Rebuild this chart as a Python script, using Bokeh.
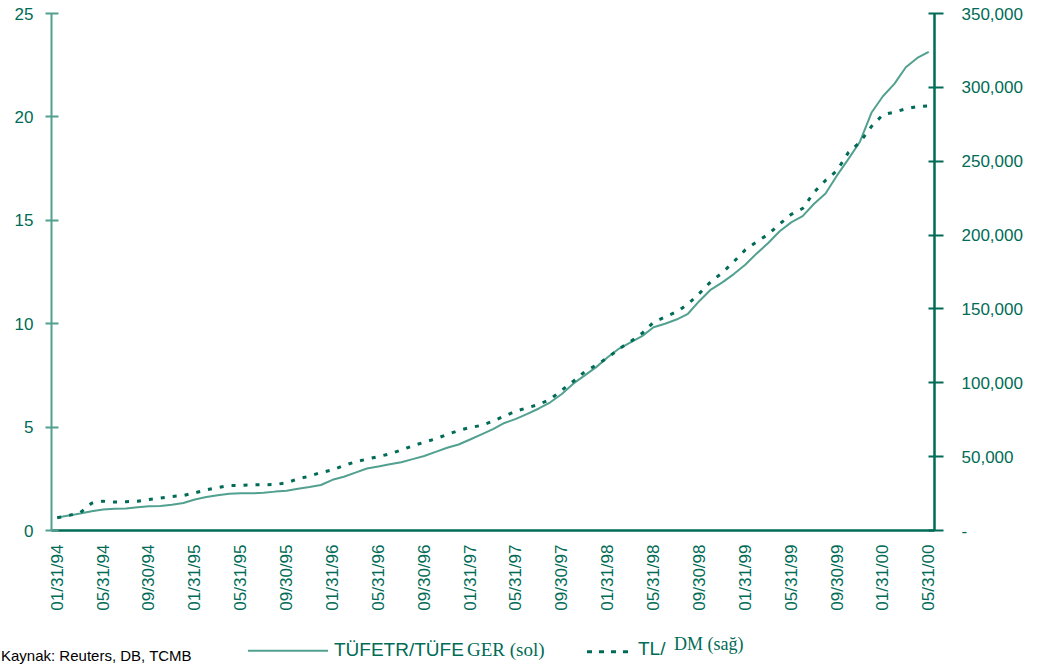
import math
import pandas as pd
from bokeh.plotting import figure
from bokeh.models import Range1d, LinearAxis, FixedTicker, NumeralTickFormatter, Div
from bokeh.layouts import column
from bokeh.embed import file_html
from bokeh.resources import INLINE

# ---------------- data ----------------
months = pd.date_range("1994-01-31", periods=77, freq="ME")
month_idx = list(range(len(months)))

tufe_ratio = [0.63, 0.72, 0.82, 0.93, 1.02, 1.05, 1.06, 1.12, 1.17, 1.19,
              1.24, 1.33, 1.50, 1.62, 1.70, 1.78, 1.80, 1.80, 1.82, 1.88,
              1.92, 2.02, 2.10, 2.20, 2.45, 2.60, 2.80, 3.00, 3.10, 3.20,
              3.30, 3.45, 3.60, 3.80, 4.00, 4.16, 4.40, 4.65, 4.90, 5.20,
              5.40, 5.64, 5.90, 6.20, 6.60, 7.10, 7.50, 7.90, 8.38, 8.80,
              9.10, 9.40, 9.83, 10.00, 10.20, 10.48, 11.10, 11.65, 12.00, 12.40,
              12.85, 13.40, 13.90, 14.47, 14.90, 15.20, 15.80, 16.30, 17.17, 17.97,
              18.80, 20.20, 21.00, 21.60, 22.40, 22.85, 23.15]

tl_dm = [8600, 10200, 12000, 18500, 19800, 19300, 19500, 19800, 21000, 22000,
         23000, 23700, 25500, 27500, 29000, 30500, 30500, 30900, 31000, 31100,
         32300, 35000, 36800, 39300, 41000, 44000, 46500, 48300, 50000, 51900,
         54500, 57300, 59800, 62100, 65000, 67700, 69700, 71200, 74000, 77500,
         80800, 83100, 85300, 88900, 95000, 101000, 107500, 112000, 117000, 123000,
         128000, 133500, 141000, 144600, 148000, 153300, 160500, 168500, 174500, 182000,
         190000, 195500, 200500, 207500, 214000, 218000, 229000, 237000, 243700, 256000,
         262900, 273500, 281500, 283200, 285500, 287000, 287500]

xtick_pos = list(range(0, 77, 4))
xtick_labels = ["01/31/94", "05/31/94", "09/30/94", "01/31/95", "05/31/95",
                "09/30/95", "01/31/96", "05/31/96", "09/30/96", "01/31/97",
                "05/31/97", "09/30/97", "01/31/98", "05/31/98", "09/30/98",
                "01/31/99", "05/31/99", "09/30/99", "01/31/00", "05/31/00"]

left_ticks = [0, 5, 10, 15, 20, 25]
right_ticks = [0, 50000, 100000, 150000, 200000, 250000, 300000, 350000]

legend_solid = "TÜFETR/TÜFE"
legend_solid_tail = "GER (sol)"
legend_dash = "TL/"
legend_dash_tail = "DM (sağ)"
source_text = "Kaynak: Reuters, DB, TCMB"

# ---------------- styles ----------------
DARK = "#006b56"
LIGHT = "#52a08f"
SANS = "Liberation Sans"
SERIF = "Liberation Serif"

W = 1045
H1 = 625
H2 = 44
FRAME_L, FRAME_R, FRAME_T, FRAME_B = 51, 934, 13, 530

p = figure(width=W, height=H1, output_backend="svg", toolbar_location=None,
           title=None,
           x_range=Range1d(-0.5, 76.5), y_range=Range1d(0, 25),
           min_border_left=FRAME_L, min_border_right=W - FRAME_R,
           min_border_top=FRAME_T, min_border_bottom=H1 - FRAME_B)
p.outline_line_color = None
p.xgrid.visible = False
p.ygrid.visible = False
p.background_fill_color = "white"
p.border_fill_color = "white"

p.extra_y_ranges = {"right": Range1d(0, 350000)}

# lines
p.line(month_idx, tufe_ratio, line_color=LIGHT, line_width=2)
p.line(month_idx, tl_dm, y_range_name="right", line_color=DARK,
       line_width=3, line_dash="4 8")

# x axis
xa = p.xaxis[0]
xa.ticker = FixedTicker(ticks=xtick_pos)
xa.major_label_overrides = {t: l for t, l in zip(xtick_pos, xtick_labels)}
xa.major_label_orientation = math.pi / 2
xa.major_tick_out = 0
xa.major_tick_in = 0
xa.minor_tick_out = 0
xa.minor_tick_in = 0
xa.axis_line_color = DARK
xa.axis_line_width = 2.5
xa.major_label_text_color = DARK
xa.major_label_text_font = SANS
xa.major_label_text_font_size = "17px"
xa.major_label_standoff = 14

# left axis
ya = p.yaxis[0]
ya.ticker = FixedTicker(ticks=left_ticks)
ya.axis_line_color = LIGHT
ya.axis_line_width = 2
ya.major_tick_line_color = LIGHT
ya.major_tick_line_width = 2
ya.major_tick_out = 6
ya.major_tick_in = 7
ya.minor_tick_out = 0
ya.minor_tick_in = 0
ya.major_label_text_color = DARK
ya.major_label_text_font = SANS
ya.major_label_text_font_size = "17px"
ya.major_label_standoff = 12

# right axis
ra = LinearAxis(y_range_name="right", ticker=FixedTicker(ticks=right_ticks),
                formatter=NumeralTickFormatter(format="0,0"))
ra.major_label_overrides = {0: "-"}
ra.axis_line_color = DARK
ra.axis_line_width = 2.5
ra.major_tick_line_color = DARK
ra.major_tick_line_width = 2
ra.major_tick_out = 9
ra.major_tick_in = 6
ra.minor_tick_out = 0
ra.minor_tick_in = 0
ra.major_label_text_color = DARK
ra.major_label_text_font = SANS
ra.major_label_text_font_size = "17px"
ra.major_label_standoff = 18
p.add_layout(ra, "right")

# ---------------- legend / source strip (below the chart) ----------------
def sy(page_y):
    return page_y - H1

def txt(x, page_y, s, font, size, color):
    return (f'<text x="{x}" y="{sy(page_y)}" '
            f'style="font-family: \'{font}\'; font-size: {size}px; fill: {color};">'
            f'{s}</text>')

strip_svg = (
    f'<svg xmlns="http://www.w3.org/2000/svg" width="{W}" height="{H2}" style="display:block">'
    f'<line x1="248" y1="{sy(650.7)}" x2="328" y2="{sy(650.7)}" stroke="{LIGHT}" stroke-width="2"/>'
    f'<line x1="587" y1="{sy(651.7)}" x2="628" y2="{sy(651.7)}" stroke="{DARK}" '
    f'stroke-width="3" stroke-dasharray="5 7"/>'
    + txt(334, 656, legend_solid, SANS, 19, DARK)
    + txt(467, 656, legend_solid_tail, SERIF, 19, DARK)
    + txt(638, 655, legend_dash, SANS, 19, DARK)
    + txt(674, 650, legend_dash_tail, SERIF, 18, DARK)
    + txt(1, 661, source_text, SANS, 15, "black")
    + '</svg>'
)

strip = Div(text=strip_svg, width=W, height=H2,
            styles={"margin": "0", "padding": "0", "overflow": "hidden"})

layout = column(p, strip, spacing=0)
open("out.html", "w").write(file_html(layout, INLINE))
